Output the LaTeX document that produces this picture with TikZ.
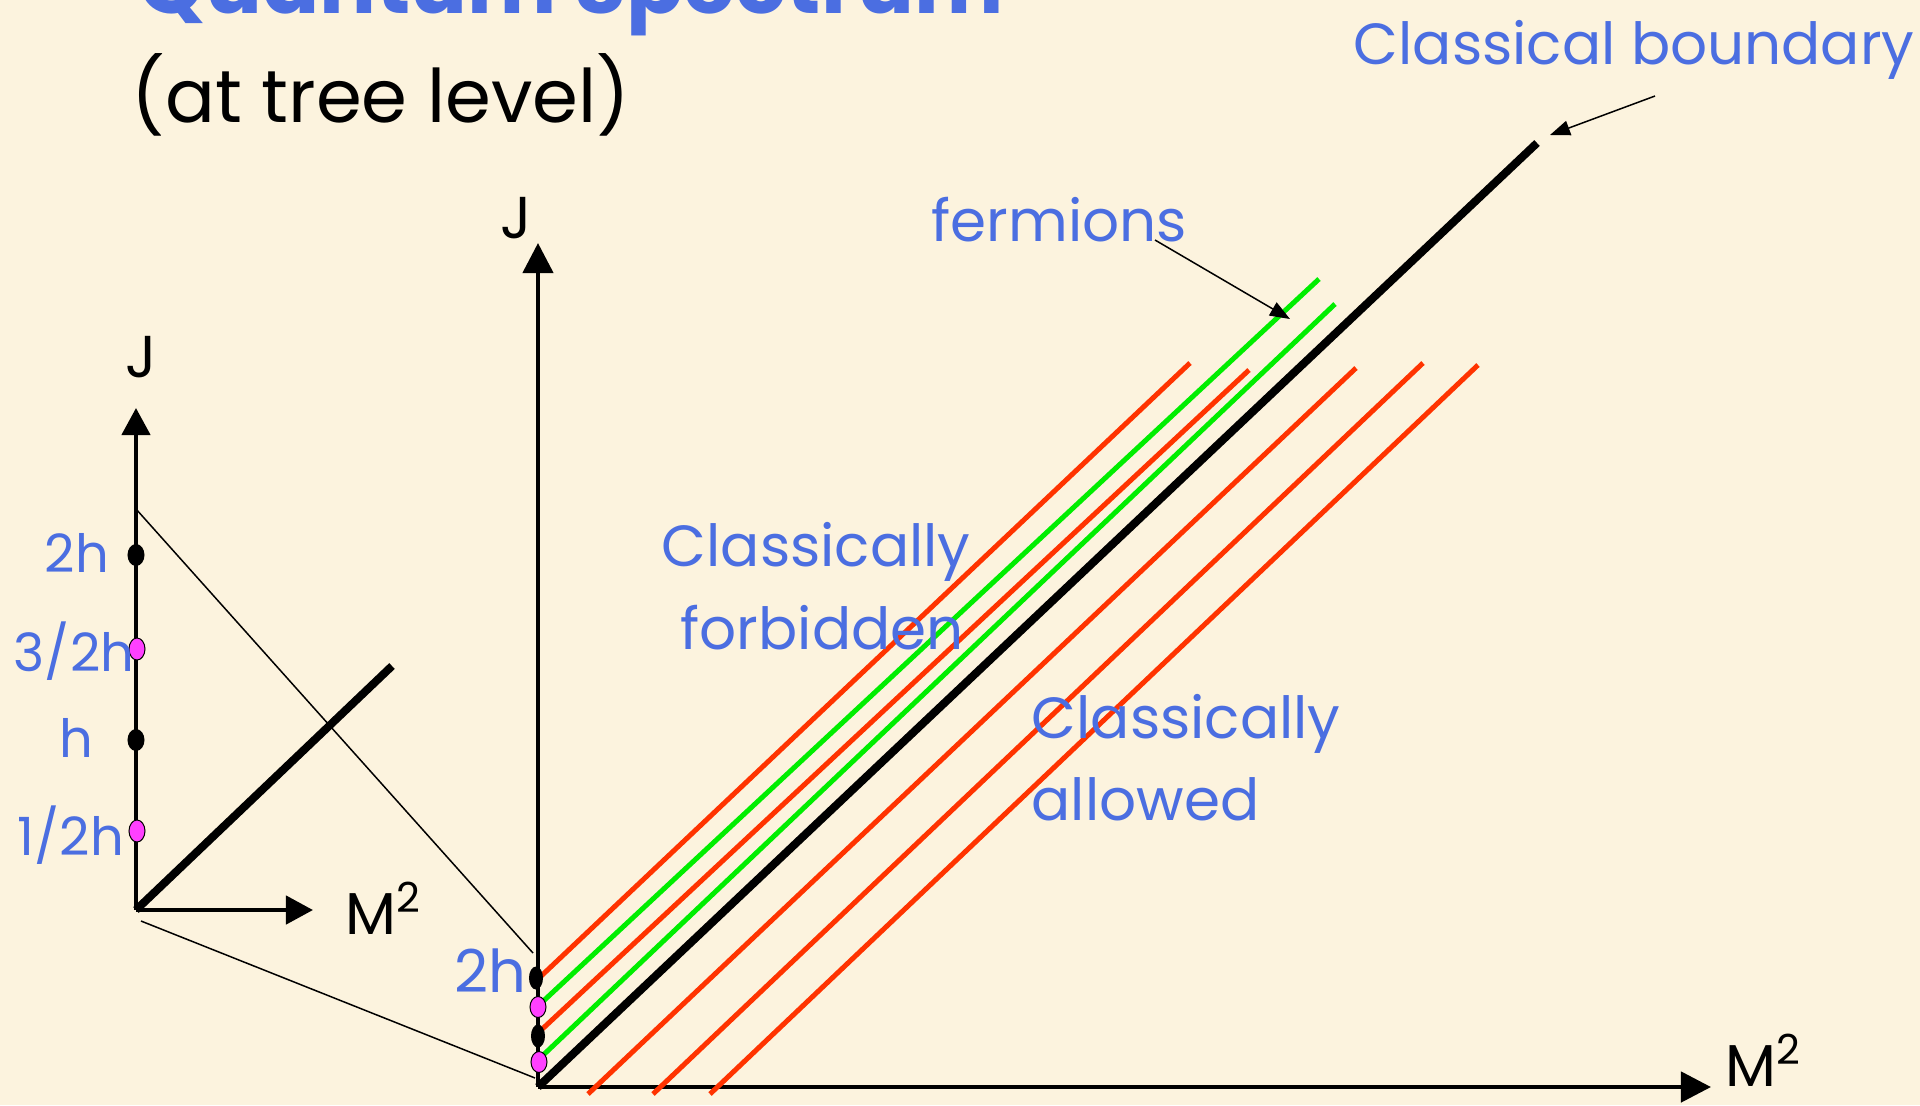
\documentclass[tikz,border=0pt]{standalone}
\usepackage{fontspec}
\setmainfont{Poppins}
\usetikzlibrary{arrows.meta,shapes.geometric}
\definecolor{bg}{RGB}{252,243,222}
\definecolor{lblue}{RGB}{75,110,225}
\definecolor{lred}{RGB}{255,51,0}
\definecolor{lgreen}{RGB}{0,238,0}
\definecolor{mag}{RGB}{255,64,255}
\begin{document}
\begin{tikzpicture}[x=0.01cm,y=-0.01cm,
  bluelbl/.style={text=lblue,inner sep=0,font=\fontsize{16.5}{20}\selectfont},
  blacklbl/.style={text=black,inner sep=0,font=\fontsize{16.8}{20}\selectfont},
  smalllbl/.style={text=lblue,inner sep=0,font=\fontsize{15}{18}\selectfont},
  axisline/.style={line width=0.045cm,-{Triangle[length=0.3cm,width=0.3cm]}},
  saxisline/.style={line width=0.045cm,-{Triangle[length=0.27cm,width=0.28cm]}},
  redl/.style={draw=lred,line width=0.05cm},
  greenl/.style={draw=lgreen,line width=0.05cm},
  boundl/.style={draw=black,line width=0.08cm},
  thinl/.style={draw=black,line width=0.015cm},
  pointer/.style={draw=black,line width=0.015cm,-{Triangle[length=0.2cm,width=0.15cm]}},
  bdot/.style={ellipse,fill=black,minimum width=0.14cm,minimum height=0.23cm,inner sep=0},
  mdot/.style={ellipse,draw=black,line width=0.01cm,fill=mag,minimum width=0.16cm,minimum height=0.21cm,inner sep=0},
  sbdot/.style={ellipse,fill=black,minimum width=0.17cm,minimum height=0.22cm,inner sep=0},
  smdot/.style={ellipse,draw=black,line width=0.01cm,fill=mag,minimum width=0.16cm,minimum height=0.22cm,inner sep=0}]
\useasboundingbox (0,0) rectangle (1920,1105);
\fill[bg] (0,0) rectangle (1920,1105);

% title (cut off at the top)
\node[anchor=base west,text=lblue,inner sep=0,font=\bfseries\fontsize{24}{28}\selectfont] (title) at (138,13) {Quantum Spectrum};
\node[anchor=base west,text=black,inner sep=0,font=\fontsize{21}{25}\selectfont] (subtitle) at (131,122) {(at tree level)};

% main axes
\coordinate (O) at (538,1087);
\coordinate (Jtop) at (538,243);
\coordinate (Mend) at (1711,1087);
\draw[axisline] (O) -- (Jtop);
\draw[axisline] (O) -- (Mend);
\node[blacklbl] (J) at (516,218) {J};
\node[blacklbl] (M) at (1764,1060) {M\textsuperscript{2}};

% trajectories
\coordinate (r1a) at (538,979);  \coordinate (r1b) at (1190,363);
\coordinate (g1a) at (538,1006); \coordinate (g1b) at (1319,279);
\coordinate (r2a) at (538,1033); \coordinate (r2b) at (1249,370);
\coordinate (g2a) at (538,1060); \coordinate (g2b) at (1335,304);
\coordinate (bkb) at (1537,143);
\coordinate (r3a) at (588,1094); \coordinate (r3b) at (1356,368);
\coordinate (r4a) at (653,1094); \coordinate (r4b) at (1423,363);
\coordinate (r5a) at (710,1094); \coordinate (r5b) at (1478,365);
\draw[redl] (r1a) -- (r1b);
\draw[greenl] (g1a) -- (g1b);
\draw[redl] (r2a) -- (r2b);
\draw[greenl] (g2a) -- (g2b);
\draw[boundl] (O) -- (bkb);
\draw[redl] (r3a) -- (r3b);
\draw[redl] (r4a) -- (r4b);
\draw[redl] (r5a) -- (r5b);

% dots on main J axis
\node[bdot] (d4) at (536,978) {};
\node[mdot] (d3) at (538,1007) {};
\node[bdot] (d2) at (538,1036) {};
\node[mdot] (d1) at (539,1062) {};
\node[smalllbl,font=\fontsize{16.8}{20}\selectfont] (l2hbig) at (490,971) {2h};

% small diagram
\coordinate (so) at (136,910);
\coordinate (sJ) at (136,408);
\coordinate (sM) at (313,910);
\coordinate (sdiag) at (392,666);
\draw[saxisline] (so) -- (sJ);
\draw[saxisline] (so) -- (sM);
\draw[line width=0.08cm] (so) -- (sdiag);
\node[blacklbl] (sJl) at (141,357) {J};
\node[blacklbl] (sMl) at (384,908) {M\textsuperscript{2}};
\node[sbdot] (s4) at (136,555) {};
\node[smdot] (s3) at (137,649) {};
\node[sbdot] (s2) at (136,740) {};
\node[smdot] (s1) at (137,831) {};
\node[smalllbl] (l2h) at (77,553) {2h};
\node[smalllbl] (l32h) at (74,651) {3/2h};
\node[smalllbl] (lh) at (76,738) {h};
\node[smalllbl] (l12h) at (71,835) {1/2h};

% zoom connectors
\coordinate (zt) at (136,509);
\coordinate (zb) at (141,921);
\coordinate (zt2) at (533,953);
\coordinate (zb2) at (535,1078);
\draw[thinl] (zt) -- (zt2);
\draw[thinl] (zb) -- (zb2);

% labels
\node[bluelbl,anchor=base west] (cf1) at (661,566) {Classically};
\node[bluelbl,anchor=base west] (cf2) at (680,649) {forbidden};
\node[bluelbl,anchor=base west] (ca1) at (1031,738) {Classically};
\node[bluelbl,anchor=base west] (ca2) at (1031,820) {allowed};
\node[bluelbl,anchor=base west] (ferm) at (931,241) {fermions};
\node[bluelbl,anchor=base west] (cb) at (1353,64) {Classical boundary};

\coordinate (ftail) at (1155,240);
\coordinate (ftip) at (1290,319);
\draw[pointer] (ftail) -- (ftip);
\coordinate (btail) at (1655,96);
\coordinate (btip) at (1550,135);
\draw[pointer] (btail) -- (btip);
\end{tikzpicture}
\end{document}
